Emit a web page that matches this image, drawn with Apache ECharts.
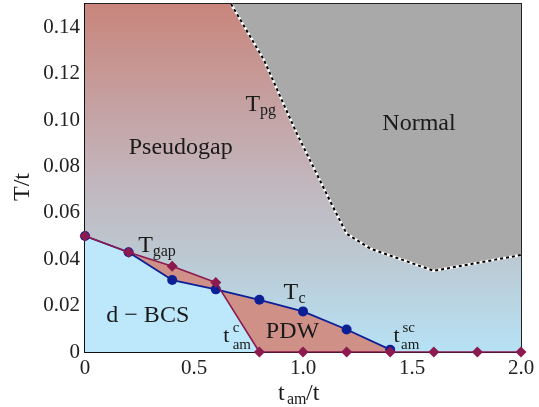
<!DOCTYPE html>
<html>
<head>
<meta charset="utf-8">
<script src="https://cdn.jsdelivr.net/npm/echarts@6/dist/echarts.min.js"></script>
<style>
  html, body { margin: 0; padding: 0; background: #fff; }
  #chart { width: 539px; height: 407px; }
</style>
</head>
<body>
<div id="chart"></div>
<script>
"use strict";
// T_c (blue circles)
var tamC = [0, 0.2, 0.4, 0.6, 0.8, 1.0, 1.2, 1.4];
var tc = [0.050, 0.043, 0.031, 0.027, 0.0225, 0.0175, 0.0097, 0.001];
// T_gap (maroon diamonds)
var tamGap = [0, 0.2, 0.4, 0.6, 0.8, 1.0, 1.2, 1.4, 1.6, 1.8, 2.0];
var tgap = [0.050, 0.043, 0.037, 0.030, 0, 0, 0, 0, 0, 0, 0];
// T_pg (dashed boundary of the Normal region)
var tamPg = [0.67, 0.82, 0.97, 1.13, 1.20, 1.31, 1.60, 2.0];
var tpg = [0.150, 0.126, 0.0945, 0.064, 0.051, 0.0445, 0.035, 0.0418];
var xTicks = [0, 0.5, 1.0, 1.5, 2.0];

var FONT = '"Liberation Serif", "DejaVu Serif", serif';
var BLUE = '#0d1f95', MAROON = '#8c1a4f';

function zip(xs, ys) { return xs.map(function (x, i) { return [x, ys[i]]; }); }
var tcPts = zip(tamC, tc);
var gapPts = zip(tamGap, tgap);
var pgPts = zip(tamPg, tpg);

var normalPoly = pgPts.concat([[2.0, 0.15]]);
var bcsPoly = [[0, 0]].concat(tcPts).concat([[1.4, 0]]);
var pdwPoly = gapPts.slice(1, 5).concat([[1.4, 0]]).concat(tcPts.slice(1).reverse());

function polySeries(pts, fill) {
  return {
    type: 'custom', silent: true, data: [[0, 0]], clip: true, z: 1,
    renderItem: function (params, api) {
      return { type: 'polygon', shape: { points: pts.map(function (p) { return api.coord(p); }) },
               style: { fill: fill } };
    }
  };
}

var chart = echarts.init(document.getElementById('chart'));
var option = {
  animation: false,
  grid: { left: 85, right: 18, top: 4, bottom: 55, show: true, borderColor: '#222', borderWidth: 2 },
  xAxis: {
    type: 'value', min: 0, max: 2, interval: 0.5,
    axisLine: { lineStyle: { color: '#111', width: 2 } },
    axisTick: { show: false }, splitLine: { show: false },
    axisLabel: { fontFamily: FONT, fontSize: 21, color: '#222', margin: 6,
      formatter: function (v) { return v === 0 ? '0' : v.toFixed(1); } }
  },
  yAxis: {
    type: 'value', min: 0, max: 0.15, interval: 0.02,
    axisLine: { lineStyle: { color: '#111', width: 2 } },
    axisTick: { show: false }, splitLine: { show: false },
    axisLabel: { fontFamily: FONT, fontSize: 21, color: '#222', margin: 5, showMaxLabel: false,
      formatter: function (v) { return v === 0 ? '0' : v.toFixed(2); } }
  },
  series: [
    {
      type: 'custom', silent: true, data: [[0, 0]], z: 1,
      renderItem: function (params, api) {
        var a = api.coord([0, 0.15]), b = api.coord([2, 0]);
        return { type: 'rect', shape: { x: a[0], y: a[1], width: b[0] - a[0], height: b[1] - a[1] },
          style: { fill: new echarts.graphic.LinearGradient(0, 0, 0, 1, [
            { offset: 0, color: '#c9857c' }, { offset: 0.5, color: '#c2b5bc' },
            { offset: 0.72, color: '#bcc8d1' }, { offset: 1, color: '#b6e2f5' }]) } };
      }
    },
    polySeries(normalPoly, '#a9a9a9'),
    polySeries(bcsPoly, '#bde8fc'),
    polySeries(pdwPoly, '#cf9088'),
    { type: 'line', data: pgPts, symbol: 'none', z: 3, silent: true,
      lineStyle: { color: '#fff', width: 2.5 } },
    { type: 'line', data: pgPts, symbol: 'none', z: 4, silent: true,
      lineStyle: { color: '#000', width: 2, type: [3, 3] } },
    { type: 'line', data: tcPts, symbol: 'circle', symbolSize: 10, z: 5,
      lineStyle: { color: BLUE, width: 1.8 }, itemStyle: { color: BLUE } },
    { type: 'line', data: gapPts, symbol: 'diamond', symbolSize: 11, z: 6,
      lineStyle: { color: MAROON, width: 1.6 }, itemStyle: { color: MAROON } }
  ]
};
chart.setOption(option);

// text labels, anchored in data coordinates
function px(x, y) { return chart.convertToPixel({ gridIndex: 0 }, [x, y]); }
function txt(p, s, size, align, extra) {
  var o = { type: 'text', x: p[0], y: p[1], z: 100,
    style: { text: s, fontFamily: FONT, fontSize: size, fill: '#1a1a1a',
      align: align || 'left', verticalAlign: 'middle', textAlign: align || 'left', textVerticalAlign: 'middle' } };
  if (extra) { for (var k in extra) o[k] = extra[k]; }
  return o;
}
function off(p, dx, dy) { return [p[0] + dx, p[1] + dy]; }

var pPseudo = px(0.439, 0.0879);
var pNormal = px(1.532, 0.0983);
var pTpg = px(0.736, 0.1067);
var pTgap = px(0.244, 0.0457);
var pTc = px(0.910, 0.0256);
var pBCS = px(0.288, 0.0155);
var pPDW = px(0.952, 0.0086);
var pTamC = px(0.634, 0.0066);
var pTamSC = px(1.415, 0.0066);

var graphics = [
  txt(pPseudo, 'Pseudogap', 24, 'center'),
  txt(pNormal, 'Normal', 24, 'center'),
  txt(pTpg, 'T', 24), txt(off(pTpg, 14.5, 6), 'pg', 16),
  txt(pTgap, 'T', 24), txt(off(pTgap, 14.5, 6), 'gap', 16),
  txt(pTc, 'T', 24), txt(off(pTc, 15, 6), 'c', 16),
  txt(pBCS, 'd \u2212 BCS', 24, 'center'),
  txt(pPDW, 'PDW', 24, 'center'),
  txt(pTamC, 't', 22), txt(off(pTamC, 9.5, -9), 'c', 15), txt(off(pTamC, 9.5, 8), 'am', 15),
  txt(pTamSC, 't', 22), txt(off(pTamSC, 9, -9), 'sc', 15), txt(off(pTamSC, 7.5, 8), 'am', 15),
  // axis titles
  txt([23, 187], 'T/t', 24, 'center', { rotation: Math.PI / 2 }),
  txt([278, 394], 't', 24), txt([287, 400], 'am', 16), txt([306, 394], '/t', 24)
];
chart.setOption({ graphic: graphics });
</script>
</body>
</html>
